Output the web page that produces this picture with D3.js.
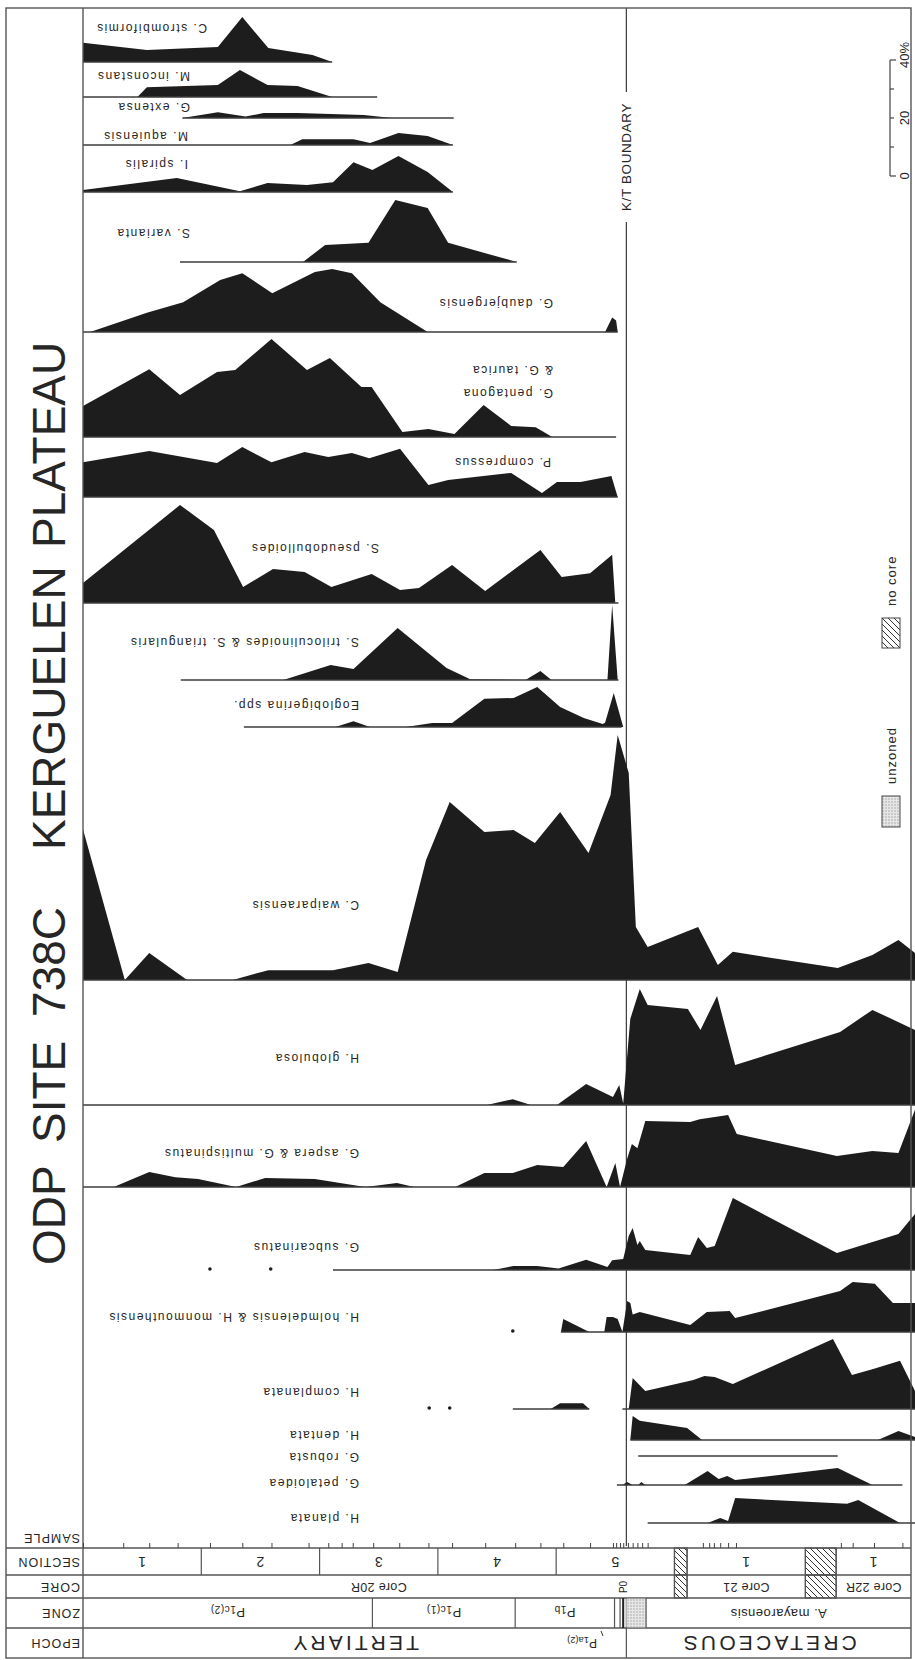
<!DOCTYPE html>
<html>
<head>
<meta charset="utf-8">
<script src="https://cdn.jsdelivr.net/npm/d3@7"></script>
<style>
  body { margin: 0; background: #fff; }
  svg { display: block; }
  text { font-family: "Liberation Sans", Arial, Helvetica, sans-serif; fill: #262626; }
</style>
</head>
<body>
<svg id="chart" width="915" height="1660"></svg>
<script>
// ODP Site 738C, Kerguelen Plateau: relative abundance (%) of planktonic
// foraminifera across the K/T boundary. Depth in cm below the top of Core 20R-1.

const title = "ODP SITE 738C KERGUELEN PLATEAU";
const ktDepth = 689;

const speciesNames = [
  "C. strombiformis", "M. inconstans", "G. extensa", "M. aquiensis", "I. spiralis",
  "S. varianta", "G. daubjergensis", "G. pentagona\n& G. taurica", "P. compressus",
  "S. pseudobulloides", "S. triloculinoides & S. triangularis", "Eoglobigerina spp.",
  "C. waiparaensis", "H. globulosa", "G. aspera & G. multispinatus", "G. subcarinatus",
  "H. holmdelensis & H. monmouthensis", "H. complanata", "H. dentata", "G. robusta",
  "G. petaloidea", "H. planata"
];

// [depth cm, abundance %]
const strombiformis = [[0,6.6],[81,4.1],[171,5.2],[202,15.5],[235,4.8],[291,2.4],[316,0]];
const inconstans = [[69,0],[81,3.4],[171,4.1],[199,9.3],[234,4.1],[272,3.8],[316,0]];
const extensa = [[126,0],[171,2],[206,0.5],[229,1.7],[272,1.7],[356,1],[392,0]];
const aquiensis = [[263,0],[278,2],[343,2],[364,0.7],[400,4.1],[437,3.1],[469,0]];
const spiralis = [[0,0.7],[119,4.8],[199,0.3],[234,3.1],[284,2.4],[317,3.4],[343,10.3],[367,7.6],[400,12.4],[437,6.9],[469,0]];
const varianta = [[279,0],[307,5.9],[362,6.6],[396,21.4],[437,18.6],[463,6.6],[550,0]];
const daubjergensis = [[9,0],[81,6.6],[127,10.3],[174,17.9],[202,20.3],[240,13.4],[294,20.7],[316,21.7],[341,20.3],[377,10.3],[437,0],[662,0],[671,5],[676,4],[678,0]];
const pentagona = [[0,10.7],[84,23.4],[123,14.5],[170,22.4],[193,23.1],[239,33.8],[284,23.1],[313,27.2],[353,17.2],[366,17.2],[405,1.7],[438,2.8],[471,1],[508,11],[543,3.8],[574,3.4],[595,0]];
const compressus = [[0,12],[84,15.9],[127,13.8],[170,11.7],[202,17.2],[239,12],[281,15.5],[311,13.8],[341,15.2],[363,13.4],[402,16.6],[438,4.1],[463,5.9],[543,8.3],[582,1.4],[601,5.2],[631,5.2],[670,7.2],[678,0]];
const pseudobulloides = [[0,6.9],[123,33.8],[166,25.2],[203,5.5],[241,11.7],[281,10.7],[315,5.5],[366,10],[402,4.5],[426,5.2],[468,13.1],[510,4.1],[580,18.3],[607,9],[643,10.3],[671,16.6],[675,0]];
const triloculinoides = [[254,0],[314,5.2],[343,3.8],[399,17.9],[461,4.1],[491,0.3],[561,0],[580,3.1],[594,0],[665,0],[671,25.9],[678,0]];
const eoglobigerina = [[320,0],[343,2],[364,0],[409,0],[443,1.4],[468,1.4],[509,9.7],[546,10],[576,13.8],[605,6.9],[635,3.1],[659,1],[662,1.5],[673,11.7],[685,0]];
const waiparaensis = [[0,52],[53,0],[84,9.3],[132,0],[190,0],[235,3.4],[317,3.4],[362,5.9],[399,2.8],[435,41.4],[465,61.4],[509,51],[546,51.7],[573,47.2],[605,57.9],[641,43.8],[669,63.8],[678,84.5],[692,71.4],[701,18.3],[716,11.4],[780,18.3],[805,5.2],[824,9.7],[957,4.1],[1001,8.6],[1034,13.8],[1055,9.3]];
const globulosa = [[512,0],[545,2],[568,0],[601,0],[638,7.2],[672,2.8],[680,6.9],[685,0.5],[694,29.7],[706,40],[716,34.5],[767,33.1],[783,25.9],[804,37.6],[827,13.8],[960,25.2],[1001,32.8],[1055,25.9]];
const aspera = [[39,0],[84,5.2],[117,3.4],[146,2.8],[194,0],[231,3.1],[294,2.8],[358,0],[398,1.4],[420,0],[472,0],[509,4.8],[545,4.8],[576,7.6],[609,6.9],[638,15.9],[664,0],[675,8.3],[681,0],[690,9.7],[696,14.8],[703,13.4],[713,22.8],[770,22.4],[782,23.4],[818,24.8],[829,18.3],[956,10.7],[1001,12.4],[1034,11.7],[1055,26.6]];
const subcarinatus = [[520,0],[546,1.4],[576,1.4],[603,0.5],[638,3.5],[665,1],[671,3.4],[685,3.8],[692,11.7],[697,14.5],[703,8.6],[706,10],[713,6.9],[770,5.2],[780,11.4],[791,7.6],[801,8.3],[824,24.8],[956,5.9],[1034,12.4],[1055,19.3]];
const holmdelensis = [[606,0],[609,4.5],[642,0],[661,0],[664,5.2],[672,5.2],[678,4.5],[684,0],[690,10.7],[694,10],[697,6],[706,6.9],[770,2.4],[791,6.9],[820,7.2],[827,4.8],[960,14.1],[976,17.2],[1004,16.6],[1027,10],[1055,10]];
const complanata = [[593,0],[605,2],[634,2],[642,0],[692,0],[697,10.7],[713,6.2],[774,10],[788,11.4],[801,11],[824,8.6],[951,24.1],[975,11.7],[1002,13.8],[1036,16.6],[1055,6.2]];
const dentata = [[694,0],[697,8.3],[706,6.6],[766,4.1],[785,0],[1008,0],[1034,3.1],[1055,1]];
const robusta = [];
const petaloidea = [[684,0],[690,1],[697,0],[704,0],[708,1],[713,0],[763,0],[792,4.8],[806,2.1],[817,3.1],[827,1.7],[957,5.9],[1001,0]];
const planata = [[792,0],[808,1.7],[818,0.7],[827,8.6],[969,6.6],[983,7.9],[1036,0]];

const series = [strombiformis, inconstans, extensa, aquiensis, spiralis, varianta, daubjergensis,
  pentagona, compressus, pseudobulloides, triloculinoides, eoglobigerina, waiparaensis, globulosa,
  aspera, subcarinatus, holmdelensis, complanata, dentata, robusta, petaloidea, planata];

// Stratigraphic range of each taxon (cm)
const presence = [
  [[0,316]], [[0,373]], [[126,470]], [[0,469]], [[0,469]], [[123,550]], [[0,678]],
  [[0,676]], [[0,678]], [[0,679]], [[124,679]], [[204,683]], [[0,1055]], [[0,1055]],
  [[0,1055]], [[317,1055]], [[606,1055]], [[545,642],[684,1055]], [[694,1055]],
  [[704,957]], [[677,1039]], [[716,1055]]
];

// Isolated rare occurrences (cm)
const subcarinatusRare = [161, 238];
const holmdelensisRare = [545];
const complanataRare = [439, 465];

const sampleDepths = [0, 51, 84, 120, 161, 202, 239, 286, 311, 328, 342, 368, 401, 438, 468, 510,
  548, 580, 609, 643, 672, 676, 681, 685, 691, 697, 703, 709, 716, 786, 794, 800, 808, 818, 828,
  961, 976, 1003, 1039];

const sectionCells = [["1",0,150],["2",150,300],["3",300,450],["4",450,600],["5",600,750],
  [null,750,766],["1",766,916],[null,916,955],["1",955,1105]];
const coreCells = [["Core 20R",0,750],[null,750,766],["Core 21",766,916],[null,916,955],["Core 22R",955,1105]];
const zoneCells = [["P|1c(2)",0,367],["P|1c(1)",367,548],["P|1b",548,674],["",674,681],["",681,685],["",685,689],["~",689,714],["A. mayaroensis",714,1105]];
const epochCells = [["TERTIARY",0,689],["CRETACEOUS",689,1105]];
const rowNames = ["SAMPLE","SECTION","CORE","ZONE","EPOCH"];
const scaleTicks = [0, 10, 20, 30, 40];

// ---------------------------------------------------------------------------
const INK = "#1d1d1d";
const RULE = "#3c3c3c";
const svg = d3.select("#chart");
const defs = svg.append("defs");

const hatch = defs.append("pattern").attr("id","hatch").attr("patternUnits","userSpaceOnUse")
  .attr("width",6).attr("height",6);
hatch.append("path").attr("d","M-1,-1L7,7M-1,5L1,7M5,-1L7,1").attr("stroke","#333").attr("stroke-width",1);
const stip = defs.append("pattern").attr("id","stipple").attr("patternUnits","userSpaceOnUse")
  .attr("width",3).attr("height",3);
stip.append("rect").attr("width",3).attr("height",3).attr("fill","#e6e6e6");
stip.append("circle").attr("cx",1).attr("cy",1).attr("r",0.7).attr("fill","#9a9a9a");

const x = d3.scaleLinear().domain([0, 1055]).range([83, 915]);
const pct = d3.scaleLinear().domain([0, 100]).range([0, 290]);

const L = 6, R = 911, TOP = 8, BOT = 1658, COL = 83;
const axisY = 1548;
const rowsY = [1548, 1575, 1598, 1628, 1658];

const baselines = [62, 97, 118, 145, 192, 262, 332, 437, 497, 603, 680, 727, 980, 1105, 1187,
  1270, 1332, 1409, 1440, 1456, 1485, 1523];
const labelPos = [[207,28],[190,76],[190,107],[188,136],[188,164],[190,233],[553,303],[553,393],
  [551,462],[379,548],[359,642],[359,705],[359,905],[359,1058],[359,1153],[359,1247],[359,1317],
  [359,1392],[359,1435],[359,1457],[359,1483],[359,1518]];

// K/T boundary line (drawn beneath the abundance curves)
const kx = x(ktDepth);
svg.append("line").attr("x1",kx).attr("x2",kx).attr("y1",TOP).attr("y2",92)
  .attr("stroke",RULE).attr("stroke-width",1.2);
svg.append("line").attr("x1",kx).attr("x2",kx).attr("y1",222).attr("y2",axisY - 2)
  .attr("stroke",RULE).attr("stroke-width",1.2);
svg.append("text").attr("transform",`translate(${kx},157) rotate(-90)`)
  .attr("text-anchor","middle").attr("dominant-baseline","central")
  .style("font-size","13.5px").style("letter-spacing","0.6px").text("K/T BOUNDARY");

// abundance curves
const plot = svg.append("g");
series.forEach((s, i) => {
  const b = baselines[i];
  if (s.length) {
    const area = d3.area().x(d => x(d[0])).y0(b).y1(d => b - pct(d[1]));
    plot.append("path").datum(s).attr("d", area).attr("fill", INK);
  }
  presence[i].forEach(([a, c]) => {
    plot.append("line").attr("x1", x(a)).attr("x2", Math.min(x(c), 915)).attr("y1", b).attr("y2", b)
      .attr("stroke", RULE).attr("stroke-width", 1.5);
  });
});
[[15, subcarinatusRare], [16, holmdelensisRare], [17, complanataRare]].forEach(([i, arr]) => {
  plot.selectAll(null).data(arr).enter().append("circle")
    .attr("cx", d => x(d)).attr("cy", baselines[i] - 1).attr("r", 1.8).attr("fill", INK);
});

// taxon labels (upside down)
speciesNames.forEach((name, i) => {
  const [lx, ly] = labelPos[i];
  const lines = name.split("\n");
  lines.forEach((ln, k) => {
    svg.append("text").attr("transform", `translate(${lx},${ly - k * 23}) rotate(180)`)
      .attr("text-anchor", "start").attr("dominant-baseline", "central")
      .style("font-size", "12px").style("letter-spacing", "1.5px").text(ln);
  });
});

// frame
const frame = svg.append("g").attr("stroke", "#555").attr("fill", "none");
frame.append("rect").attr("x", L).attr("y", TOP).attr("width", R - L).attr("height", BOT - TOP).attr("stroke-width", 1.4);
frame.append("line").attr("x1", COL).attr("x2", COL).attr("y1", TOP).attr("y2", BOT).attr("stroke-width", 1.4);
rowsY.slice(0, 4).forEach(y => frame.append("line").attr("x1", L).attr("x2", R).attr("y1", y).attr("y2", y).attr("stroke-width", 1.4));

// sample axis
svg.append("g").attr("transform", `translate(0,${axisY})`)
  .call(d3.axisTop(x).tickValues(sampleDepths).tickSize(5).tickFormat(""))
  .call(g => { g.select(".domain").remove(); g.selectAll("line").attr("stroke", "#444"); });

function flip(g, cx, cy, str, size, opts = {}) {
  const t = g.append("text").attr("transform", `translate(${cx},${cy}) rotate(180)`)
    .attr("text-anchor", opts.anchor || "middle").attr("dominant-baseline", "central")
    .style("font-size", size + "px");
  if (opts.ls) t.style("letter-spacing", opts.ls + "px");
  if (str.includes("|")) {
    const [main, sub] = str.split("|");
    t.append("tspan").text(main);
    t.append("tspan").attr("dy", 3).style("font-size", (size * 0.78) + "px").text(sub);
  } else t.text(str);
  return t;
}

const table = svg.append("g");
function cellRow(cells, y0, y1, labelSize, ls) {
  cells.forEach(([lab, a, c]) => {
    const xa = x(a), xc = Math.min(x(c), R);
    if (a > 0) table.append("line").attr("x1", xa).attr("x2", xa).attr("y1", y0).attr("y2", y1)
      .attr("stroke", "#555").attr("stroke-width", 1.2);
    if (lab === null) {
      table.append("rect").attr("x", xa).attr("y", y0).attr("width", xc - xa).attr("height", y1 - y0)
        .attr("fill", "url(#hatch)").attr("stroke", "#555").attr("stroke-width", 1.2);
    } else if (lab === "~") {
      table.append("rect").attr("x", xa).attr("y", y0 + 0.7).attr("width", xc - xa).attr("height", y1 - y0 - 1.4)
        .attr("fill", "url(#stipple)");
    } else if (lab) {
      flip(table, (xa + xc) / 2, (y0 + y1) / 2, lab, labelSize, { ls });
    }
  });
}
cellRow(sectionCells, rowsY[0], rowsY[1], 14);
cellRow(coreCells, rowsY[1], rowsY[2], 12.5, 0.3);
cellRow(zoneCells, rowsY[2], rowsY[3], 13, 0.5);
cellRow(epochCells, rowsY[3], rowsY[4], 21, 3.2);
// bold P0 marker line inside the zone row
table.append("line").attr("x1", x(685)).attr("x2", x(685)).attr("y1", rowsY[2]).attr("y2", rowsY[3])
  .attr("stroke", "#222").attr("stroke-width", 2);
table.append("text").attr("transform", `translate(${x(685)},1587) rotate(-90)`)
  .attr("text-anchor", "middle").attr("dominant-baseline", "central").style("font-size", "10px").text("P0");
flip(table, 597, 1643, "P|1a(2)", 12, { anchor: "start" });
table.append("line").attr("x1", 601).attr("x2", 603).attr("y1", 1631).attr("y2", 1636).attr("stroke", "#333");

// row names
rowNames.forEach((n, i) => {
  const cy = i === 0 ? 1538 : (rowsY[i - 1] + rowsY[i]) / 2;
  flip(table, 80, cy, n, 12.5, { anchor: "start", ls: 1 });
});

// abundance scale bar
const sb = svg.append("g");
const sY = d3.scaleLinear().domain([0, 40]).range([176, 176 - pct(40)]);
sb.append("line").attr("x1", 890).attr("x2", 890).attr("y1", sY(0)).attr("y2", sY(40)).attr("stroke", "#444").attr("stroke-width", 1.2);
sb.selectAll(null).data(scaleTicks).enter().append("line")
  .attr("x1", 890).attr("x2", d => d % 40 === 0 ? 896 : 894).attr("y1", d => sY(d)).attr("y2", d => sY(d))
  .attr("stroke", "#444").attr("stroke-width", 1.2);
sb.selectAll(null).data([0, 20, 40]).enter().append("text")
  .attr("transform", d => `translate(904,${d === 40 ? sY(d) + 8 : sY(d)}) rotate(-90)`)
  .attr("text-anchor", d => d === 40 ? "start" : "middle").attr("dominant-baseline", "central")
  .style("font-size", "13px").text(d => d === 40 ? "40%" : d);

// legend
const lg = svg.append("g");
lg.append("rect").attr("x", 882).attr("y", 618).attr("width", 18).attr("height", 30)
  .attr("fill", "url(#hatch)").attr("stroke", "#444");
lg.append("text").attr("transform", "translate(891,606) rotate(-90)").attr("dominant-baseline", "central")
  .style("font-size", "13px").style("letter-spacing", "1px").text("no core");
lg.append("rect").attr("x", 882).attr("y", 796).attr("width", 18).attr("height", 31)
  .attr("fill", "url(#stipple)").attr("stroke", "#444");
lg.append("text").attr("transform", "translate(891,784) rotate(-90)").attr("dominant-baseline", "central")
  .style("font-size", "13px").style("letter-spacing", "1px").text("unzoned");

// title
const titleY = [1265, 1143, 1017, 850, 548];
title.split(" ").forEach((w, i) => {
  svg.append("text").attr("transform", `translate(65,${titleY[i]}) rotate(-90)`)
    .style("font-size", "46px").text(w);
});
</script>
</body>
</html>
